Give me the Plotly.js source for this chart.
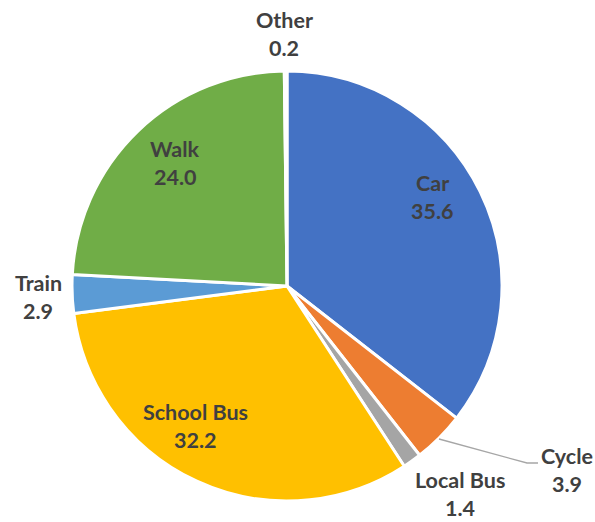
<!DOCTYPE html>
<html>
<head>
<meta charset="utf-8">
<script src="https://cdn.plot.ly/plotly-3.0.1.min.js"></script>
<style>html,body{margin:0;padding:0;background:#fff;}#chart{width:595px;height:522px;}</style>
</head>
<body>
<div id="chart"></div>
<script>
// Data
const categories = ['Car', 'Cycle', 'Local Bus', 'School Bus', 'Train', 'Walk', 'Other'];
const values = [35.6, 3.9, 1.4, 32.2, 2.9, 24.0, 0.2];
const colors = ['#4472C4', '#ED7D31', '#A5A5A5', '#FFC000', '#5B9BD5', '#70AD47', '#264478'];

// Label placement (pixel centres of each two-line label)
const labelPos = [
  [432, 197], [567, 470], [460, 494], [195, 426], [38, 297], [175, 163], [284, 34]
];

// Plot area geometry
const L = 72, T = 71, S = 430;
const W = 595, H = 522;
function px(x) { return (x - L) / S; }
function py(y) { return (T + S - y) / S; }

const fontSpec = {family: 'Lato, "Open Sans", sans-serif', size: 21.5, color: '#404040', weight: 'bold'};

const annotations = [];
categories.forEach((c, i) => {
  const [x, y] = labelPos[i];
  annotations.push({
    xref: 'paper', yref: 'paper', x: px(x), y: py(y - 14), text: '<b>' + c + '</b>',
    showarrow: false, xanchor: 'center', yanchor: 'middle', font: fontSpec
  });
  annotations.push({
    xref: 'paper', yref: 'paper', x: px(x), y: py(y + 14), text: '<b>' + values[i].toFixed(1) + '</b>',
    showarrow: false, xanchor: 'center', yanchor: 'middle', font: fontSpec
  });
});

const shapes = [{
  type: 'path', xref: 'paper', yref: 'paper',
  path: 'M ' + px(439) + ',' + py(439) + ' L ' + px(527) + ',' + py(463) + ' L ' + px(538) + ',' + py(463),
  line: {color: '#A6A6A6', width: 1.3}
}];

const trace = {
  type: 'pie',
  labels: categories,
  values: values,
  sort: false,
  direction: 'clockwise',
  rotation: 0,
  marker: {colors: colors, line: {color: '#FFFFFF', width: 3}},
  textinfo: 'none',
  hoverinfo: 'label+value',
  showlegend: false
};

const layout = {
  width: W, height: H,
  margin: {l: L, r: W - L - S, t: T, b: H - T - S, pad: 0},
  paper_bgcolor: '#FFFFFF',
  plot_bgcolor: '#FFFFFF',
  showlegend: false,
  annotations: annotations,
  shapes: shapes
};

Plotly.newPlot('chart', [trace], layout, {displayModeBar: false, staticPlot: true});
</script>
</body>
</html>
